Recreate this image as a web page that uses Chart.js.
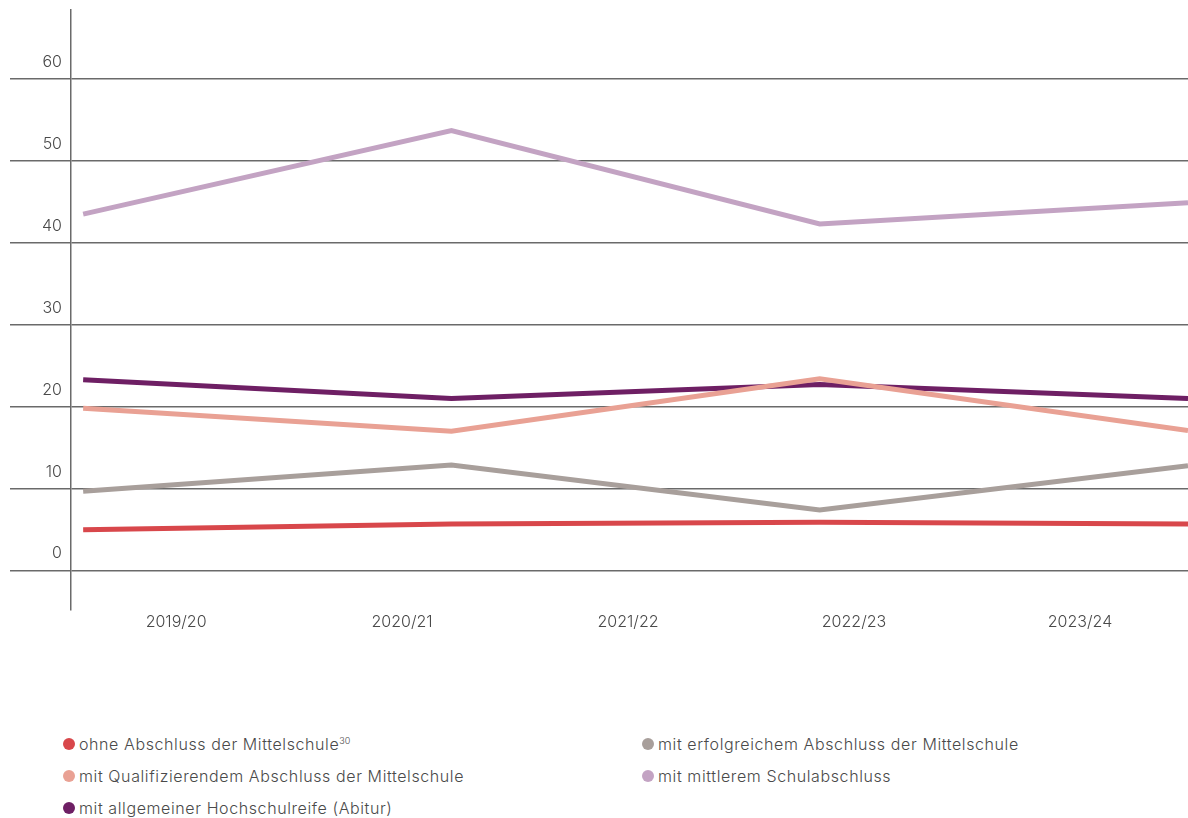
<!DOCTYPE html>
<html>
<head>
<meta charset="utf-8">
<script src="https://cdn.jsdelivr.net/npm/chart.js@4"></script>
<style>
  body { margin: 0; background: #fff; font-family: Inter, sans-serif; }
  #wrap { position: relative; width: 1188px; height: 818px; }
  #chartBox { position: absolute; left: 0; top: 0; width: 1188px; height: 640px; }
  #legend {
    position: absolute; left: 63px; top: 733px;
    display: grid; grid-template-columns: 579px auto; row-gap: 10px;
    font-size: 16px; font-weight: 300; letter-spacing: 0.6px;
    color: #4a4a4a; line-height: 22px;
  }
  #legend .item { display: flex; align-items: center; white-space: nowrap; }
  #legend .dot { width: 12px; height: 12px; border-radius: 50%; margin-right: 4px; flex: none; }
  #legend sup { font-size: 9px; line-height: 0; vertical-align: 6px; letter-spacing: 0; }
</style>
</head>
<body>
<div id="wrap">
  <div id="chartBox"><canvas id="chart"></canvas></div>
  <div id="legend"></div>
</div>
<script>
const years = ['2019/20', '2020/21', '2021/22', '2022/23', '2023/24'];
const yTicks = [0, 10, 20, 30, 40, 50, 60];

const seriesNames = [
  'ohne Abschluss der Mittelschule',
  'mit erfolgreichem Abschluss der Mittelschule',
  'mit Qualifizierendem Abschluss der Mittelschule',
  'mit mittlerem Schulabschluss',
  'mit allgemeiner Hochschulreife (Abitur)'
];
const seriesColors = ['#d8474b', '#a89f9b', '#e9a194', '#c3a3c3', '#6e1f64'];

const ohneAbschluss   = [5.0, 5.7, 5.9, 5.7];
const erfolgreich     = [9.7, 12.9, 7.4, 12.8];
const qualifizierend  = [19.8, 17.0, 23.4, 17.1];
const mittlerer       = [43.5, 53.7, 42.3, 44.9];
const abitur          = [23.3, 21.0, 22.7, 21.0];

const seriesValues = [ohneAbschluss, erfolgreich, qualifizierend, mittlerer, abitur];

const gridColor = '#6a6a6a';
const textColor = '#4a4a4a';
const tickFont = { family: 'Inter', size: 16, weight: 300 };

const datasets = seriesValues.map((vals, i) => ({
  label: seriesNames[i],
  data: vals.map((v, k) => ({ x: k, y: v })),
  borderColor: seriesColors[i],
  backgroundColor: seriesColors[i],
  borderWidth: 5,
  pointRadius: 0,
  tension: 0,
  xAxisID: 'idx',
  yAxisID: 'y'
}));

new Chart(document.getElementById('chart'), {
  type: 'line',
  data: { datasets },
  options: {
    responsive: true,
    maintainAspectRatio: false,
    animation: false,
    layout: { padding: { left: 10, top: 10, right: 0, bottom: 0 } },
    plugins: { legend: { display: false }, tooltip: { enabled: false } },
    scales: {
      idx: {
        type: 'linear',
        display: false,
        min: -0.033,
        max: 3
      },
      years: {
        type: 'linear',
        position: 'bottom',
        min: -0.465,
        max: 4.478,
        grid: { display: false },
        border: { display: false },
        afterBuildTicks: s => { s.ticks = years.map((_, i) => ({ value: i })); },
        afterFit: s => { s.height = 30; },
        ticks: {
          autoSkip: false,
          maxRotation: 0,
          padding: -5,
          color: textColor,
          font: tickFont,
          callback: v => years[v]
        }
      },
      y: {
        type: 'linear',
        min: -4.8,
        max: 68.4,
        afterBuildTicks: s => { s.ticks = yTicks.map(v => ({ value: v })); },
        afterFit: s => { s.width = 61; },
        grid: { color: gridColor, lineWidth: 1.5, tickLength: 61 },
        border: { color: gridColor, width: 1.5 },
        ticks: {
          padding: -52,
          labelOffset: -17,
          color: textColor,
          font: tickFont
        }
      }
    }
  }
});

// HTML legend in two columns, filled row by row like the reference
const legendEl = document.getElementById('legend');
seriesNames.forEach((name, i) => {
  const item = document.createElement('div');
  item.className = 'item';
  const dot = document.createElement('span');
  dot.className = 'dot';
  dot.style.background = seriesColors[i];
  const txt = document.createElement('span');
  txt.textContent = name;
  if (i === 0) {
    const sup = document.createElement('sup');
    sup.textContent = '30';
    txt.appendChild(sup);
  }
  item.appendChild(dot);
  item.appendChild(txt);
  legendEl.appendChild(item);
});
</script>
</body>
</html>
